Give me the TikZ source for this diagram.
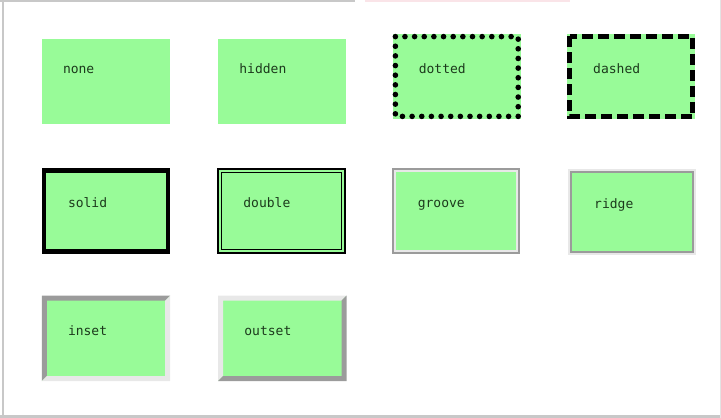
\documentclass[tikz,border=0pt]{standalone}
\usepackage{fontspec}
\setmonofont{DejaVu Sans Mono}
\usetikzlibrary{positioning}
\definecolor{boxgreen}{RGB}{152, 251, 152}
\definecolor{textgray}{RGB}{28, 58, 28}
\definecolor{edgedark}{RGB}{155, 155, 155}
\definecolor{edgelight}{RGB}{232, 232, 232}
\definecolor{framegray}{RGB}{200, 200, 200}
\definecolor{framepink}{RGB}{250, 228, 232}

% rectangle drawn #2 inside the outer edge of node #1
\newcommand{\insetrect}[2]{([shift={(#2,#2)}]#1.north west) rectangle ([shift={(-#2,-#2)}]#1.south east)}

\begin{document}
\begin{tikzpicture}[
  x=1pt, y=-1pt,
  cssbox/.style={rectangle, fill=boxgreen, minimum width=128pt, minimum height=85pt, inner sep=0pt},
  boxtext/.style={anchor=base west, inner sep=0pt, text=textgray, font=\ttfamily\fontsize{13}{15}\selectfont},
  dotline/.style={line width=5.6pt, dash pattern=on 0pt off 9.65pt, line cap=round},
  dashline/.style={line width=5pt, dash pattern=on 11pt off 5pt}
]
  \useasboundingbox (0,0) rectangle (721,418);

  % screenshot frame
  \draw[framegray, line width=2pt] (0,1) -- (355,1);
  \draw[framepink, line width=2pt] (365,1) -- (570,1);
  \draw[framegray, line width=2pt] (2.5,0) -- (2.5,418);
  \draw[framegray, line width=3pt] (0,416.5) -- (721,416.5);
  \draw[framegray!50, line width=1pt] (720,0) -- (720,418);

  % boxes
  \node[cssbox] (none) at (106,81.5) {};
  \node[cssbox, right=48pt of none] (hidden) {};
  \node[cssbox, right=46pt of hidden, yshift=5pt] (dotted) {};
  \node[cssbox, right=46pt of dotted] (dashed) {};
  \node[cssbox, below=44pt of none] (solid) {};
  \node[cssbox, right=47pt of solid] (double) {};
  \node[cssbox, right=46pt of double] (groove) {};
  \node[cssbox, right=48pt of groove, yshift=-1pt] (ridge) {};
  \node[cssbox, below=42pt of solid] (inset) {};
  \node[cssbox, right=48pt of inset] (outset) {};

  % borders
  \draw[dotline] \insetrect{dotted}{2.8};
  \draw[dashline] \insetrect{dashed}{2.5};
  \draw[line width=4.5pt] \insetrect{solid}{2.25};
  \draw[line width=1.6pt] \insetrect{double}{0.8};
  \draw[line width=1.6pt] \insetrect{double}{4.2};
  \draw[edgedark, line width=2pt] \insetrect{groove}{1};
  \draw[edgelight, line width=2pt] \insetrect{groove}{3};
  \draw[edgelight, line width=2pt] \insetrect{ridge}{1};
  \draw[edgedark, line width=2pt] \insetrect{ridge}{3};
  \fill[edgedark] (inset.north west) -- (inset.north east) -- ([shift={(-5,5)}]inset.north east)
    -- ([shift={(5,5)}]inset.north west) -- ([shift={(5,-5)}]inset.south west) -- (inset.south west) -- cycle;
  \fill[edgelight] (inset.south east) -- (inset.south west) -- ([shift={(5,-5)}]inset.south west)
    -- ([shift={(-5,-5)}]inset.south east) -- ([shift={(-5,5)}]inset.north east) -- (inset.north east) -- cycle;
  \fill[edgelight] (outset.north west) -- (outset.north east) -- ([shift={(-5,5)}]outset.north east)
    -- ([shift={(5,5)}]outset.north west) -- ([shift={(5,-5)}]outset.south west) -- (outset.south west) -- cycle;
  \fill[edgedark] (outset.south east) -- (outset.south west) -- ([shift={(5,-5)}]outset.south west)
    -- ([shift={(-5,-5)}]outset.south east) -- ([shift={(-5,5)}]outset.north east) -- (outset.north east) -- cycle;

  % labels
  \node[boxtext] (none-text) at ([shift={(21,34.5)}]none.north west) {none};
  \node[boxtext] (hidden-text) at ([shift={(21,34.5)}]hidden.north west) {hidden};
  \node[boxtext] (dotted-text) at ([shift={(26,39.5)}]dotted.north west) {dotted};
  \node[boxtext] (dashed-text) at ([shift={(26,39.5)}]dashed.north west) {dashed};
  \node[boxtext] (solid-text) at ([shift={(26,39.5)}]solid.north west) {solid};
  \node[boxtext] (double-text) at ([shift={(26,39.5)}]double.north west) {double};
  \node[boxtext] (groove-text) at ([shift={(26,39.5)}]groove.north west) {groove};
  \node[boxtext] (ridge-text) at ([shift={(26,39.5)}]ridge.north west) {ridge};
  \node[boxtext] (inset-text) at ([shift={(26,39.5)}]inset.north west) {inset};
  \node[boxtext] (outset-text) at ([shift={(26,39.5)}]outset.north west) {outset};
\end{tikzpicture}
\end{document}
